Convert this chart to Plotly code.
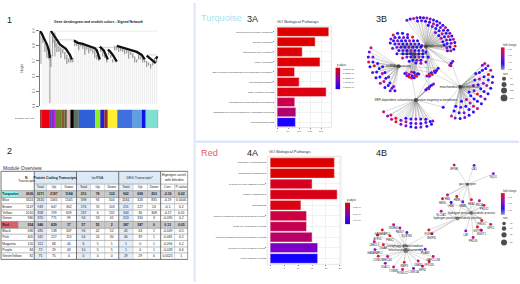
import plotly.graph_objects as go

W, H = 520, 284
NARROW = "Liberation Sans Narrow, Liberation Sans, Arial"
SANS = "Liberation Sans, Arial"

# ---------- Panel 1: dendrogram ----------
dendro_title = "Gene dendrogram and module colors - Signed Network"
height_ticks = [0.9, 0.8, 0.7, 0.6, 0.5, 0.4]
leaf_pos = [3,5,7,9,11,13,15,17,19,21,23,25,27,29,31,33,35,37,39,41,43,45,47,49,51,53,55,57,59,61,63,65,67,69,71,73,75,77,79,81,83,85,87,89,91,93,95,97,99,101,103,105,107,109,111,113,115,117]
leaf_top = [.87,.82,.79,.76,.74,.86,.84,.82,.80,.79,.78,.76,.74,.72,.71,.72,.84,.83,.82,.815,.81,.80,.795,.79,.785,.78,.77,.74,.72,.79,.77,.74,.71,.77,.74,.71,.80,.795,.79,.785,.78,.775,.77,.765,.76,.75,.73,.71,.74,.73,.72,.71,.70,.69,.68,.69,.72,.73]
leaf_fuzz = [.05,.06,.07,.05,.08,.04,.05,.06,.04,.07,.03,.05,.06,.03,.02,.03,.04,.03,.05,.02,.03,.06,.02,.04,.02,.03,.05,.03,.02,.03,.04,.02,.02,.03,.02,.02,.03,.02,.03,.02,.02,.03,.02,.05,.02,.03,.04,.02,.03,.02,.03,.02,.04,.02,.03,.02,.03,.04]
dendro_branches = [
    ([0, 2, 4, 7, 9, 10, 10], [.9, .88, .85, .81, .77, .74, .72]),
    ([11, 13, 15, 18, 20, 23, 26, 28, 30, 32], [.9, .875, .86, .83, .81, .795, .78, .76, .74, .71]),
    ([34, 38, 42, 47, 52, 55, 57, 58, 59, 60], [.835, .82, .815, .805, .795, .785, .77, .75, .73, .71]),
    ([60, 62, 64, 66, 68], [.795, .785, .77, .74, .71]),
    ([68, 70, 73, 75, 77], [.775, .765, .74, .72, .695]),
    ([77, 82, 87, 92, 97, 102, 105], [.8, .79, .78, .77, .76, .74, .71]),
    ([107, 110, 112, 114, 116], [.735, .72, .71, .70, .685]),
    ([116, 117, 118], [.715, .72, .73]),
]
dendro_links_x = [[10, 118], [15, 34], [53, 77], [108, 117]]
dendro_links_y = [[.9, .9], [.84, .84], [.79, .79], [.74, .74]]
dendro_spikes_x = [1, 10, 12.5, 15]
dendro_spikes_y = [.68, .42, .73, .73]
module_widths = [2, 8, 2, 2.5, 1.5, 6, 2.5, 2.5, 3.5, 3.5, 5, 16.5, 5, 4, 3.5, 9.5, 15.5, 9, 4, 12, 1]
module_colors = ["#a04040", "#ee0010", "#6040c0", "#8030c0", "#c020e0", "#708030", "#8a5a30", "#506030", "#f0b0c0", "#000000", "#607060", "#3060d8", "#90f020", "#2020d0", "#903030", "#fff030", "#4070e0", "#60a0e0", "#1010f0", "#80e0d0", "#b0b0e0"]

# ---------- Panel 2: table ----------
modules = ["Turquoise", "Blue", "Brown", "Yellow", "Green", "Red", "Black", "Pink", "Magenta", "Purple", "GreenYellow"]
n_transcripts = ["3636", "3324", "1147", "1010", "980", "954", "586", "405", "120", "84", "82"]
pc_total = ["3371", "2610", "949", "858", "870", "846", "485", "342", "112", "72", "75"]
pc_up = ["2187", "1065", "647", "199", "771", "829", "138", "227", "68", "29", "75"]
pc_down = ["1184", "1545", "302", "659", "99", "17", "347", "115", "44", "43", "0"]
lnc_total = ["210", "598", "176", "137", "94", "57", "94", "54", "6", "10", "0"]
lnc_up = ["78", "94", "70", "6", "53", "55", "42", "24", "5", "5", "0"]
lnc_down = ["132", "504", "103", "131", "41", "2", "52", "30", "1", "5", "0"]
deg_total = ["902", "1161", "251", "344", "313", "387", "45", "40", "1", "1", "29"]
deg_up = ["699", "326", "227", "36", "310", "387", "44", "39", "0", "0", "29"]
deg_down = ["203", "835", "24", "308", "3", "0", "1", "1", "1", "1", "0"]
corr = ["-0.16", "-0.19", "-0.1", "-0.17", "-0.095", "0.13", "-0.049", "-0.081", "-0.094", "-0.033", "0.0025"]
pval = ["0.02", "0.0005", "0.2", "0.01", "0.2", "0.05", "0.5", "0.2", "0.2", "0.6", "1"]
group_headers = ["Protein Coding Transcripts", "lncRNA", "DEG Transcripts*"]
sub_headers = ["Total", "Up", "Down", "Total", "Up", "Down", "Total", "Up", "Down", "Corr.", "P-value"]

# ---------- Panels 3A / 4A: bars ----------
terms_3a = ["ribonucleoprotein complex biogenesis", "ribosome biogenesis", "mitochondrial gene expression", "ncRNA processing",
            "SRP-dependent cotranslational protein targeting to membrane", "mitochondrial translation", "ncRNA metabolic process",
            "cotranslational protein targeting to membrane", "establishment of protein localization to endoplasmic reticulum", "protein targeting to ER"]
counts_3a = [235, 173, 114, 195, 79, 100, 223, 80, 85, 83]
colors_3a = ["#dd0000", "#dd0000", "#dd0004", "#dd0004", "#dd0008", "#dd0010", "#dc0010", "#c80050", "#b00070", "#1a00ff"]
terms_4a = ["autophagy of mitochondrion", "mitochondrion disassembly", "hydrogen peroxide catabolic process", "organelle disassembly",
            "gas transport", "porphyrin-containing compound biosynthetic process", "tetrapyrrole biosynthetic process",
            "porphyrin-containing compound metabolic process", "hydrogen peroxide metabolic process", "cellular catabolic process"]
counts_4a = [23, 23, 15, 24, 11, 13, 13, 15, 17, 17]
colors_4a = ["#dd0000", "#dd0000", "#d60020", "#d80018", "#dd0010", "#cc0040", "#c40050", "#b8006a", "#7a00c8", "#1200ff"]
gradient_levels = [[1.0], [0.9], [0.8], [0.7], [0.6], [0.5], [0.4], [0.3], [0.2], [0.1], [0.0]]
padj_3a = ["1.32377e-29", "2.83327e-09", "5.03272e-09", "7.48372e-09", "9.23301e-09"]
padj_4a = ["2.52e-06", "5.08e-06", "7.64e-06"]

# ---------- Panel 3B: network ----------
hubs_3b_x = [215, 178, 133, 318, 185]
hubs_3b_y = [133, 158, 193, 256, 296]
hubs_3b = ["ribonucleoprotein complex biogenesis", "ribosome biogenesis", "ncRNA processing", "mitochondrial gene expression", "SRP-dependent cotranslational protein targeting to membrane"]
fan_a_x = [158,168,178,188,198,208,218,228,238,248,257,266,274,281,287,293,298,302,303,299,290,280,190,202,214,226,238,249,259,268,276,283,288,291,288,278,222,234,245,255,264,271,277,279,270,244,254,261,266]
fan_a_y = [53,49,47,45,44,45,46,49,52,56,61,68,75,83,92,101,111,121,131,141,146,146,55,54,56,59,63,68,75,83,92,102,112,123,134,137,68,72,78,85,94,103,113,124,128,90,99,108,118]
fan_a_fc = [1,0,2,1,0,0,2,1,0,0,1,0,2,0,1,0,2,0,3,0,2,0,0,1,0,0,2,0,1,0,0,2,0,1,0,2,0,1,0,0,2,0,1,0,0,1,0,2,0]
fan_b_x = [110,117,130,145,160,175,190,203,215,222,215,200,185,165,145,128,115,108,122,135,148,160,118,130,142,154,166,178,122,134,146,158,170,182,194,128,140,152,164,176,188,200,134,146,158,170,182,194,206,146,158,170,182,194,206,158,170,182,194,206,176,188,200]
fan_b_y = [110,98,92,92,96,104,115,130,150,165,180,184,183,178,168,155,138,122,105,105,105,105,115,115,115,115,115,115,125,125,125,125,125,125,125,135,135,135,135,135,135,135,145,145,145,145,145,145,145,155,155,155,155,155,155,165,165,165,165,165,175,175,175]
fan_b_fc = [1,3,0,0,1,3,0,1,0,0,1,2,0,0,2,0,1,0,0,0,1,0,0,1,0,0,2,0,0,1,0,0,0,1,0,1,0,0,1,0,0,0,0,1,0,2,0,0,1,0,0,0,1,0,0,1,0,0,2,0,0,1,0]
fan_c_x = [50,45,42,43,47,55,65,78,92,108,122,56,56,60,67,77,89,102,113,70,75,84,95,107,118,85,92,103]
fan_c_y = [137,150,165,180,195,212,228,245,258,268,268,165,180,192,211,226,240,252,260,185,200,215,230,244,255,195,212,226]
fan_c_fc = [2,1,0,3,0,1,0,2,0,1,0,1,0,3,0,0,2,0,1,0,0,2,0,0,1,0,0,1]
fan_d_x = [88,100,112,125,140,155,170,185,200,218,232,236,110,125,140,155,170,185,200,215,228,155,170,185,200,215]
fan_d_y = [332,345,355,363,370,375,378,380,379,376,370,360,342,352,358,363,367,368,368,365,362,352,354,354,354,355]
fan_d_fc = [2,1,2,3,1,1,0,0,1,0,0,1,2,3,1,2,0,1,0,1,0,0,0,1,0,0]
fan_e_x = [292,303,318,332,345,358,370,382,393,402,410,415,416,410,402,392,385,300,315,330,345,358,370,380,390,398,403,403,395,305,320,335,348,360,370,380,388,390,385,322,337,350,360,372,376,376,345,358,362,365]
fan_e_y = [345,351,353,350,343,333,322,308,293,277,260,243,225,205,192,185,190,330,335,335,325,315,300,285,270,252,235,218,200,315,318,315,305,293,278,262,245,225,205,300,295,283,268,250,232,212,272,252,235,215]
fan_e_fc = [2,1,0,1,0,0,2,0,1,0,0,1,0,2,1,2,1,0,0,1,0,2,0,1,0,2,0,3,0,0,1,0,2,0,3,0,1,0,0,0,2,0,1,0,2,0,0,1,0,0]
clusters_x = [152,158,165,172,180,187,194,156,165,174,183,190,172,180,218,225,232,240,247,226,234,243,287,291,296,290,252,215,220,226,232,238,224,267]
clusters_y = [215,222,226,229,228,224,217,214,218,222,220,216,211,212,223,217,213,208,206,224,218,212,190,184,178,192,199,265,260,256,251,247,262,318]
clusters_fc = [0,1,3,2,0,3,1,2,1,0,3,0,2,0,1,3,0,2,0,1,3,0,2,0,1,2,0,0,1,0,0,1,2,0]
clusters_hub = [1,1,1,1,1,1,1,1,1,1,1,1,1,1,0,0,0,0,0,0,0,0,0,0,0,0,0,4,4,4,4,4,4,3]
fc_palette = ["#2a10ff", "#7a10d0", "#c0108a", "#e8102a"]
size_labels_3b = ["75", "150", "225", "300"]
size_legend_y = [231, 249, 267, 290]
size_legend_px = [4, 5, 6, 6.8]
fc_ticks_3b = ["0.20", "0.15", "0.10", "0.05"]

# ---------- Panel 4B: network ----------
hubs_4b = ["gas transport", "hydrogen peroxide catabolic process", "hydrogen peroxide metabolic process", "autophagy of mitochondrion", "mitochondrion disassembly"]
hubs_4b_x = [340, 352, 310, 153, 155]
hubs_4b_y = [128, 215, 232, 318, 330]
genes_4b = ["BPGM", "CA1", "NQO1", "HBD", "HBG1", "HBM", "HBA2", "HBB", "HBA1", "SNCA", "PRDX2", "SLC4A1", "PRDX1", "GPX1", "CAT", "GSTP1", "MGST1", "PRDX6", "FOXO3", "BNIP3L",
            "WDR45", "GABARAPL2", "ATP5D", "UBE2L3", "GABARAPL1", "CSNK2B", "VDAC1", "TOMM7", "FUNDC2", "CSNK1A", "MFN2", "VPS13D", "MAP1LC3B", "PGAM5", "FBXO7", "SQSTM1", "PINK1", "TIGAR", "BECN1", "BNIP3", "UBA52"]
genes_4b_x = [300,360,418,280,265,308,352,291,326,376,390,261,383,410,335,370,382,357,224,233,118,84,70,60,62,72,93,118,145,178,205,225,237,213,137,158,107,87,100,150,192]
genes_4b_y = [69,70,95,160,172,165,175,183,181,178,192,210,238,250,270,258,268,290,267,279,251,267,283,303,327,347,369,380,388,385,378,364,348,326,261,275,285,312,348,366,362]
genes_4b_fc = [2,1,1,2,3,3,3,0,1,2,3,2,3,3,1,3,2,2,3,2,2,3,3,2,1,3,1,2,2,1,2,3,2,1,2,1,3,3,2,3,2]
genes_4b_hub = [0,0,0,0,0,1,0,0,1,1,1,2,1,1,1,1,1,1,2,2,3,3,3,3,3,4,4,4,4,4,4,4,4,4,3,3,3,3,4,4,4]
fc_ticks_4b = ["0.15", "0.10", "0.05"]
size_labels_4b = ["10", "15", "20", "25"]
size_legend_4b_y = [247, 263, 282, 305]
size_legend_4b_px = [3.5, 4.5, 5.2, 6]

fig = go.Figure()
layout = dict(width=W, height=H, margin=dict(l=0, r=0, t=0, b=0), paper_bgcolor="white", plot_bgcolor="rgba(0,0,0,0)", barmode="overlay",
              showlegend=False, hovermode=False, autosize=False, font=dict(family=SANS, size=4, color="#222"), annotations=[], shapes=[])
count = [0]


def px(x):
    return x / W


def py(y):
    return 1 - y / H


def axes(x0, x1, y0, y1, xr, yr, xopts=None, yopts=None):
    count[0] += 1
    n = count[0]
    s = "" if n == 1 else str(n)
    base = dict(visible=False, showgrid=False, zeroline=False, fixedrange=True)
    xa = dict(base, domain=[px(x0), px(x1)], range=xr, anchor="y" + s)
    ya = dict(base, domain=[py(y1), py(y0)], range=yr, anchor="x" + s)
    xa.update(xopts or {})
    ya.update(yopts or {})
    layout["xaxis" + s] = xa
    layout["yaxis" + s] = ya
    return "x" + s, "y" + s


def note(text, x, y, size=4, color="#222", anchor="center", family=SANS, bold=False, angle=0):
    layout["annotations"].append(dict(xref="paper", yref="paper", x=px(x), y=py(y), text=f"<b>{text}</b>" if bold else text,
                                      showarrow=False, xanchor=anchor, yanchor="middle", textangle=angle,
                                      font=dict(size=size, color=color, family=family)))


def rect(x0, y0, x1, y1, fill=None, line=None, w=0.5, ref=None):
    xr, yr = ref or ("paper", "paper")
    if ref is None:
        x0, x1, y0, y1 = px(x0), px(x1), py(y0), py(y1)
    layout["shapes"].append(dict(type="rect", xref=xr, yref=yr, x0=x0, x1=x1, y0=y0, y1=y1, fillcolor=fill or "rgba(0,0,0,0)",
                                 line=dict(color=line or "rgba(0,0,0,0)", width=w if line else 0), layer="below"))


# separators
rect(194, 0, 196, 284, fill="#dfe6f5")
rect(196, 140, 520, 142.5, fill="#dfe6f5")

# panel letters
note("1", 9.5, 17, 9)
note("2", 9.5, 151, 9)
note("Turquoise", 199, 15, 9.2, "#a8e2ec", "left")
note("3A", 253, 16, 9)
note("3B", 382, 16, 9)
note("Red", 199, 153, 9.2, "#f05a5a", "left")
note("4A", 253, 153, 9)
note("4B", 382, 153, 9)

# ---------- Panel 1 ----------
xa, ya = axes(40, 158.5, 28.3, 105, [0, 118.5], [0.4, 0.9], yopts=dict(visible=True, showline=True, linecolor="#777", linewidth=0.5, ticks="outside", ticklen=3,
              tickwidth=0.5, tickcolor="#777", tickvals=height_ticks, tickfont=dict(size=3, color="#555"), tickangle=-90))
lx, ly, fx_, fy_ = [], [], [], []
for x, t, f in zip(leaf_pos, leaf_top, leaf_fuzz):
    lx += [x, x, None]
    ly += [t, 0.415, None]
    fx_ += [x, x, None]
    fy_ += [t, t - f, None]
fig.add_trace(go.Scatter(x=lx, y=ly, mode="lines", line=dict(color="#dedede", width=0.6), xaxis=xa, yaxis=ya))
fig.add_trace(go.Scatter(x=fx_, y=fy_, mode="lines", line=dict(color="#555555", width=0.7), xaxis=xa, yaxis=ya))
tx, ty = [], []
for a, b in zip(dendro_links_x, dendro_links_y):
    tx += a + [None]
    ty += b + [None]
fig.add_trace(go.Scatter(x=tx, y=ty, mode="lines", line=dict(color="#aaaaaa", width=0.5), xaxis=xa, yaxis=ya))
sx, sy = [], []
for x, y in zip(dendro_spikes_x, dendro_spikes_y):
    sx += [x, x, None]
    sy += [0.89, y, None]
fig.add_trace(go.Scatter(x=sx, y=sy, mode="lines", line=dict(color="#777777", width=0.7), xaxis=xa, yaxis=ya))
for bx, by in dendro_branches:
    fig.add_trace(go.Scatter(x=bx, y=by, mode="lines", line=dict(color="#111111", width=2.3), xaxis=xa, yaxis=ya))
note(dendro_title, 99, 19.5, 3.4, "#222", bold=True)
note("Height", 22, 66, 3, "#333", angle=-90)
note("Dynamic Tree Cut", 36, 118, 2.4, "#333", "right")
xa, ya = axes(40, 158.5, 108.3, 127.3, [0, 118.5], [0, 1])
base = 0
for w_, c_ in zip(module_widths, module_colors):
    fig.add_trace(go.Bar(x=[w_], y=[0.5], base=[base], width=[1], orientation="h", marker=dict(color=c_, line=dict(width=0)), xaxis=xa, yaxis=ya))
    base += w_

# ---------- Panel 2 ----------
note("Module Overview", 1.5, 167.6, 5, "#333", "left", NARROW)
xa, ya = axes(0, 188.6, 142, 284, [0, 566], [426, 0])
ref = (xa, ya)
col_edges = [3, 55, 103, 140, 184, 230, 272, 315, 357, 400, 443, 483, 525, 565]
row_edges = [88, 127, 147, 168, 187, 206, 223, 241, 262, 280, 299, 319, 337, 357]
for i in (3, 6, 9):
    rect(col_edges[i - 1], 88, col_edges[i + 2], 127, fill="#dce9f7", ref=ref)
    rect(col_edges[i - 1], 127, col_edges[i], 357, fill="#e6eff9", ref=ref)
for r in (0, 5):
    rect(3, row_edges[2 + r], 565, row_edges[3 + r], fill="#c9c9c9", ref=ref)
rect(3, row_edges[2], 55, row_edges[3], fill="#90f2f2", ref=ref)
rect(3, row_edges[7], 55, row_edges[8], fill="#d8606a", ref=ref)
hx, hy = [], []
for y in row_edges[1:-1]:
    hx += [(103 if y == 127 else 3), 565, None]
    hy += [y, y, None]
fig.add_trace(go.Scatter(x=hx, y=hy, mode="lines", line=dict(color="#777777", width=0.5), xaxis=xa, yaxis=ya))
vx, vy = [], []
for i, x in enumerate(col_edges):
    if i in (0, 2, 5, 8, 11, 13):
        vx += [x, x, None]
        vy += [88, 357, None]
fig.add_trace(go.Scatter(x=vx + [3, 565, None, 3, 565], y=vy + [88, 88, None, 357, 357], mode="lines", line=dict(color="#555555", width=0.8), xaxis=xa, yaxis=ya))
wx, wy = [], []
for x in col_edges[3:5] + col_edges[6:8] + col_edges[9:11] + col_edges[12:13]:
    wx += [x, x, None]
    wy += [127, 357, None]
fig.add_trace(go.Scatter(x=wx, y=wy, mode="lines", line=dict(color="#999999", width=0.4), xaxis=xa, yaxis=ya))
rows_y = [(row_edges[k] + row_edges[k + 1]) / 2 for k in range(2, 13)]
bold_rows = {0, 5}


def cells(values, xc, anchor="middle center"):
    txt = [f"<b>{v}</b>" if i in bold_rows else v for i, v in enumerate(values)]
    fig.add_trace(go.Scatter(x=[xc] * len(values), y=rows_y, text=txt, mode="text", textposition=anchor,
                             textfont=dict(size=3.4, family=NARROW, color="#222"), xaxis=xa, yaxis=ya))


cells(modules, 7, "middle right")
cells(n_transcripts, 100, "middle left")
table_cols = [pc_total, pc_up, pc_down, lnc_total, lnc_up, lnc_down, deg_total, deg_up, deg_down, corr, pval]
for i, col in enumerate(table_cols):
    cells(col, (col_edges[2 + i] + col_edges[3 + i]) / 2)
hdr_y = 137
fig.add_trace(go.Scatter(x=[(col_edges[2 + i] + col_edges[3 + i]) / 2 for i in range(11)], y=[hdr_y] * 11, text=sub_headers, mode="text",
                         textfont=dict(size=3.4, family=NARROW, color="#222"), xaxis=xa, yaxis=ya))
fig.add_trace(go.Scatter(x=[166, 293, 420, 79, 80, 524, 524], y=[108, 108, 108, 108, 118, 100, 116],
                         text=["<b>" + group_headers[0] + "</b>", group_headers[1], group_headers[2], "<b>N</b>", "Transcripts", "Eigengen correl.", "with bilirubin"],
                         mode="text", textfont=dict(size=3.4, family=NARROW, color="#222"), xaxis=xa, yaxis=ya))


# ---------- Panels 3A / 4A ----------
def bars(terms, counts, colors, frame, xr, yr, ticks, title):
    x0, x1, y0, y1 = frame
    a, b = axes(x0, x1, y0, y1, xr, yr,
                xopts=dict(visible=True, showgrid=True, gridcolor="#f1f1f1", gridwidth=0.5, ticks="outside", ticklen=1, tickwidth=0.4, tickcolor="#888",
                           tickvals=ticks, tickfont=dict(size=2.4, color="#555")),
                yopts=dict(visible=True, type="linear", showgrid=True, gridcolor="#f1f1f1", gridwidth=0.5, ticks="outside", ticklen=1, tickwidth=0.4, tickcolor="#888",
                           tickvals=list(range(len(terms))), ticktext=terms, tickfont=dict(size=2.2, color="#333")))
    rect(x0, y0, x1, y1, line="#e6e6e6", w=1)
    fig.add_trace(go.Bar(x=counts, y=list(range(len(terms))), orientation="h", width=0.9, marker=dict(color=colors, line=dict(color="rgba(255,225,225,0.9)", width=0.5)), xaxis=a, yaxis=b))
    note(title, x0 - 0.5, y0 - 4.5, 3.9, "#333", "left")


bars(terms_3a, counts_3a, colors_3a, (275.7, 332, 23.7, 126.7), [-9, 247], [9.53, -0.55], [0, 50, 100, 150, 200], "GO Biological Pathways")
bars(terms_4a, counts_4a, colors_4a, (267.7, 341.7, 156, 266), [-1.07, 25.4], [9.55, -0.6], [0, 5, 10, 15, 20, 25], "GO Biological Pathways")


def gradient(x0, x1, y0, y1, levels, labels, ly, title, scale=None):
    a, b = axes(x0, x1, y0, y1, [0, 1], [0, 1])
    colorscale = scale or [[0, "#1200ff"], [0.5, "#8a00b0"], [1, "#e00000"]]
    fig.add_trace(go.Heatmap(z=levels, x=[0.5], y=[i / (len(levels) - 1) for i in range(len(levels) - 1, -1, -1)], colorscale=colorscale, zmin=0, zmax=1,
                             showscale=False, zsmooth="best", xaxis=a, yaxis=b))
    for t, y in zip(labels, ly):
        note(t, x1 + 0.8, y, 2, "#444", "left")
    note(title, x0, y0 - 2.2, 2.6, "#333", "left")


gradient(336, 341, 65.7, 87.7, gradient_levels, padj_3a, [67, 71.5, 76, 80.5, 86], "p.adjust")
gradient(345.7, 350.7, 203, 225.3, gradient_levels, padj_4a, [208, 215, 221], "p.adjust")


# ---------- Networks ----------
def network(hx, hy, lx, ly, lhub, extra=None, ew=0.3, ecol="rgba(130,130,130,0.55)", ax=None):
    ex, ey = [], []
    for x, y, h in zip(lx, ly, lhub):
        ex += [hx[h], x, None]
        ey += [hy[h], y, None]
    for (h1, x, y) in (extra or []):
        ex += [hx[h1], x, None]
        ey += [hy[h1], y, None]
    fig.add_trace(go.Scatter(x=ex, y=ey, mode="lines", line=dict(color=ecol, width=ew), xaxis=ax[0], yaxis=ax[1]))


def size_legend(ys, sizes, labels, ax):
    fig.add_trace(go.Scatter(x=[450] * 4, y=ys, mode="markers", marker=dict(color="black", size=sizes, line=dict(width=0)), xaxis=ax[0], yaxis=ax[1]))
    fig.add_trace(go.Scatter(x=[468] * 4, y=ys, mode="text", text=labels, textposition="middle right", textfont=dict(size=2.2, color="#444"), xaxis=ax[0], yaxis=ax[1]))


ax3 = axes(355, 520, 0, 142, [0, 495], [426, 0])
fans = [(fan_a_x, fan_a_y, fan_a_fc, 0), (fan_b_x, fan_b_y, fan_b_fc, 1), (fan_c_x, fan_c_y, fan_c_fc, 2), (fan_d_x, fan_d_y, fan_d_fc, 4), (fan_e_x, fan_e_y, fan_e_fc, 3)]
allx, ally, allc, allh = [], [], [], []
for fx, fy, fc, h in fans:
    allx += fx
    ally += fy
    allc += [fc_palette[c] for c in fc]
    allh += [h] * len(fx)
allx += clusters_x
ally += clusters_y
allc += [fc_palette[c] for c in clusters_fc]
allh += clusters_hub
cross = [(4, 172, 219), (4, 232, 213), (4, 226, 256), (3, 232, 213), (3, 252, 199), (3, 292, 185), (2, 172, 219), (2, 232, 213), (0, 172, 219), (1, 232, 213), (1, 292, 185), (0, 226, 256), (4, 267, 318), (2, 252, 199), (1, 226, 256)]
network(hubs_3b_x, hubs_3b_y, allx, ally, allh, extra=cross, ew=0.4, ecol="rgba(130,130,130,0.7)", ax=ax3)
fig.add_trace(go.Scatter(x=allx, y=ally, mode="markers", marker=dict(color=allc, size=3, line=dict(width=0)), xaxis=ax3[0], yaxis=ax3[1]))
fig.add_trace(go.Scatter(x=hubs_3b_x, y=hubs_3b_y, mode="markers+text", text=hubs_3b, textposition="middle center", textfont=dict(size=3, color="#222"),
                         marker=dict(color="#555555", size=4, symbol="circle"), xaxis=ax3[0], yaxis=ax3[1]))
fc_scale = [[0, "#8f9bb5"], [0.3, "#2a10ff"], [0.6, "#8a10c0"], [1, "#e8102a"]]
gradient(501.7, 505.7, 45, 68, gradient_levels, fc_ticks_3b, [47, 53, 60, 67], "fold change", scale=fc_scale)
size_legend(size_legend_y, size_legend_px, size_labels_3b, ax3)
note("size", 501.5, 72.5, 2.6, "#333", "left")

ax4 = axes(355, 520, 142, 284, [0, 495], [426, 0])
network(hubs_4b_x, hubs_4b_y, genes_4b_x, genes_4b_y, genes_4b_hub, ew=0.5, ecol="rgba(170,170,170,0.8)", ax=ax4,
        extra=[(1, 340, 128), (2, 340, 128), (2, 153, 318), (2, 352, 215), (1, 308, 165), (1, 326, 181), (1, 291, 183), (2, 280, 160), (2, 265, 172), (2, 376, 178), (2, 390, 192)])
fig.add_trace(go.Scatter(x=genes_4b_x, y=genes_4b_y, mode="markers+text", text=genes_4b, textposition="bottom center", textfont=dict(size=2.6, color="#222"),
                         marker=dict(color=[fc_palette[c] for c in genes_4b_fc], size=2.9, line=dict(width=0)), xaxis=ax4[0], yaxis=ax4[1]))
fig.add_trace(go.Scatter(x=hubs_4b_x, y=hubs_4b_y, mode="markers+text", text=hubs_4b, textposition="middle center", textfont=dict(size=2.9, color="#222"),
                         marker=dict(color="#666666", size=[4.5, 5, 5, 6.5, 6.5]), xaxis=ax4[0], yaxis=ax4[1]))
gradient(501.7, 506, 193.5, 215.5, gradient_levels, fc_ticks_4b, [197, 204, 211], "fold change", scale=fc_scale)
size_legend(size_legend_4b_y, size_legend_4b_px, size_labels_4b, ax4)
note("size", 501.5, 219, 2.6, "#333", "left")

fig.update_layout(**layout)
fig.update_traces(hoverinfo="skip")
fig.write_html("out.html", config=dict(displayModeBar=False), post_script="document.body.style.margin='0';")
